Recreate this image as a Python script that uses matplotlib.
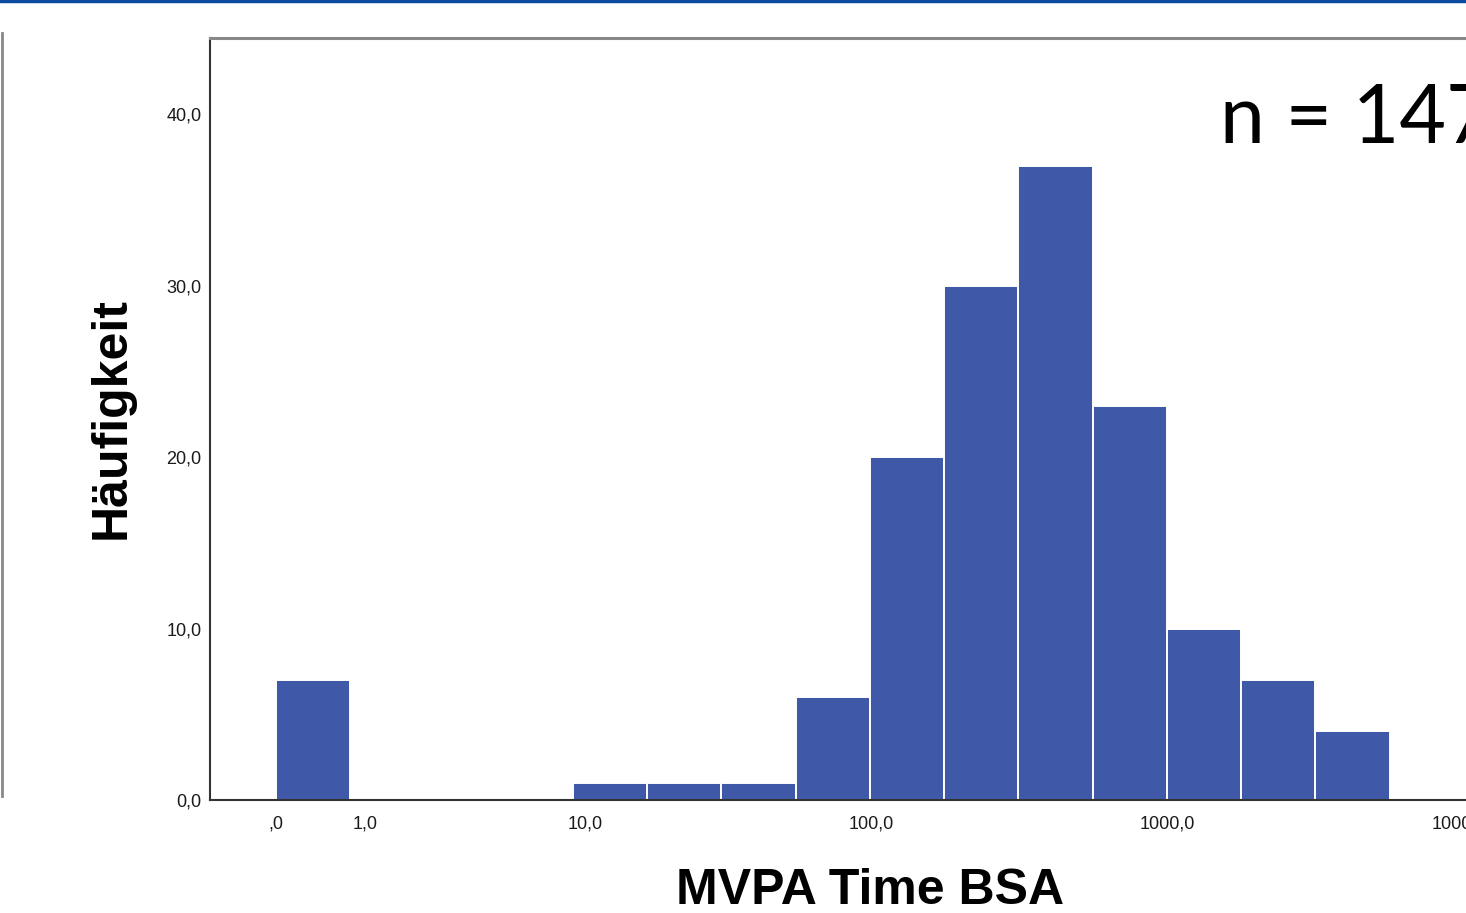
import numpy as np
import matplotlib
matplotlib.use("Agg")
from matplotlib import pyplot as plt
from matplotlib.lines import Line2D

# histogram bins on a log10(x + 1) scale, as SPSS draws them
bin_left = [0.0, 1.0, 1.25, 1.5, 1.75, 2.0, 2.25, 2.5, 2.75, 3.0, 3.25, 3.5]
bin_width = 0.25
counts = [7, 1, 1, 1, 6, 20, 30, 37, 23, 10, 7, 4]

x_ticks = [0, 1, 10, 100, 1000, 10000]
x_tick_labels = [",0", "1,0", "10,0", "100,0", "1000,0", "10000,0"]
y_ticks = [0, 10, 20, 30, 40]
y_tick_labels = ["0,0", "10,0", "20,0", "30,0", "40,0"]

W, H = 1466, 913
fig = plt.figure(figsize=(W / 100, H / 100), dpi=100)

x0, x1 = -0.222, 4.3
ax_w = (x1 - x0) * 297
ax = fig.add_axes([210 / W, 1 - 800 / H, ax_w / W, 762 / H])

ax.bar(bin_left, counts, width=bin_width, align="edge",
       color="#3F59A8", edgecolor="white", linewidth=1.4, zorder=2)

ax.set_xlim(x0, x1)
ax.set_ylim(0, 44.45)
ax.set_xticks(np.log10(np.array(x_ticks) + 1))
ax.set_xticklabels(x_tick_labels)
ax.set_yticks(y_ticks)
ax.set_yticklabels(y_tick_labels)
ax.tick_params(axis="both", length=0, labelsize=13, colors="#1a1a1a",
               labelfontfamily="Liberation Sans")
ax.tick_params(axis="x", pad=11)
ax.tick_params(axis="y", pad=6)

ax.spines["left"].set_color("#333333")
ax.spines["bottom"].set_color("#333333")
ax.spines["left"].set_linewidth(1.5)
ax.spines["bottom"].set_linewidth(1.5)
ax.spines["top"].set_color("#888888")
ax.spines["top"].set_linewidth(2.2)
ax.spines["right"].set_color("#888888")

fig.text(870 / W, 1 - 891 / H, "MVPA Time BSA", ha="center", va="center",
         fontsize=36, fontweight="bold", family="Liberation Sans")
fig.text(112 / W, 1 - 418 / H, "Häufigkeit", ha="center", va="center",
         rotation=90, fontsize=36, fontweight="bold", family="Liberation Sans")
fig.text(1220 / W, 1 - 143 / H, "n = 147", ha="left", va="baseline",
         fontsize=58, family="Lato")

# screenshot frame bits
fig.add_artist(Line2D([0, 1], [1 - 1.5 / H, 1 - 1.5 / H], color="#0B4A9C",
                      linewidth=2.5, transform=fig.transFigure))
fig.add_artist(Line2D([1.5 / W, 1.5 / W], [1 - 33 / H, 1 - 796 / H], color="#888888",
                      linewidth=2, transform=fig.transFigure))

fig.savefig("out.png", dpi=100)
